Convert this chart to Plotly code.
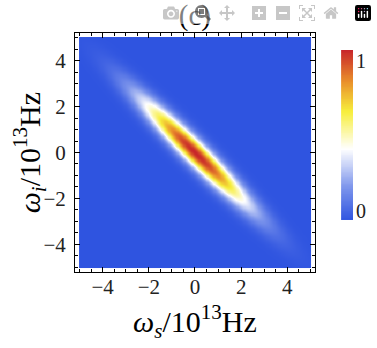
import numpy as np
import plotly.graph_objects as go

# frequency grid (units of 10^13 Hz)
ws = np.linspace(-5, 5, 201)
wi = np.linspace(-5, 5, 201)

# joint spectral intensity parameters
long_width = 3.2    # along the anti-diagonal (ws - wi)
short_width = 0.47  # along the diagonal (ws + wi)

tick_vals = [-4, -2, 0, 2, 4]
# colour bar: values shown and where its two labels sit (just inside the ends)
bar_levels = np.linspace(0, 1, 101)
cbar_vals = [0.055, 0.935]
cbar_text = ["0", "1"]

WS, WI = np.meshgrid(ws, wi)
u = (WS - WI) / np.sqrt(2)
v = (WS + WI) / np.sqrt(2)
jsi = np.exp(-(u / long_width) ** 2) * np.exp(-(v / short_width) ** 2)

cscale = [
    [0.0, "#2f54e0"],
    [0.2, "#7f97ec"],
    [0.42, "#ffffff"],
    [0.64, "#f7ee3c"],
    [0.82, "#e98e2b"],
    [1.0, "#c8262a"],
]

serif = "Liberation Serif"

fig = go.Figure()
fig.add_trace(go.Heatmap(
    x=ws, y=wi, z=jsi, zmin=0, zmax=1,
    colorscale=cscale, zsmooth="best", showscale=False,
))
# the colour bar is drawn as its own small heatmap so its place is fixed
fig.add_trace(go.Heatmap(
    x=[0], y=bar_levels, z=bar_levels.reshape(-1, 1), zmin=0, zmax=1,
    colorscale=cscale, zsmooth="best", showscale=False,
    xaxis="x2", yaxis="y2", hoverinfo="skip",
))

axis_common = dict(
    range=[-5.2, 5.2], tickvals=tick_vals, ticks="inside", ticklen=5,
    tickcolor="black", showline=True, linecolor="black", linewidth=1,
    mirror="ticks", showgrid=False, zeroline=False, automargin=False,
    minor=dict(dtick=0.5, ticks="inside", ticklen=3, tickcolor="black", showgrid=False),
    tickfont=dict(family=serif, size=21, color="#222"),
)

# paper is 297 px wide (l=75, r=5); main plot 240 px, bar at 341..353 px
fig.update_layout(
    xaxis=dict(**axis_common, domain=[0, 0.808], ticklabelstandoff=-4),
    yaxis=dict(**axis_common, domain=[0, 1], ticklabelstandoff=4),
    xaxis2=dict(domain=[0.896, 0.936], range=[-0.5, 0.5], visible=False,
                anchor="y2"),
    yaxis2=dict(domain=[0.218, 0.929], range=[0, 1], anchor="x2", side="right",
                tickvals=cbar_vals, ticktext=cbar_text, ticks="",
                showline=False, showgrid=False, zeroline=False, automargin=False,
                ticklabelstandoff=2,
                tickfont=dict(family=serif, size=20, color="#222")),
)

title_font = dict(family=serif, size=30, color="black")
fig.add_annotation(
    text="<i>ω<sub>s</sub></i>/10<sup>13</sup>Hz", font=title_font,
    xref="paper", yref="paper", x=0.404, y=-0.209,
    xanchor="center", yanchor="middle", showarrow=False,
)
fig.add_annotation(
    text="<i>ω<sub>i</sub></i>/10<sup>13</sup>Hz", font=title_font, textangle=-90,
    xref="paper", yref="paper", x=-0.152, y=0.5,
    xanchor="center", yanchor="middle", showarrow=False,
)

fig.update_layout(
    width=377, height=348,
    margin=dict(l=75, r=5, t=33, b=76),
    paper_bgcolor="white", plot_bgcolor="white",
    title=dict(text="(c)", x=0.517, xanchor="center", y=0.958, yanchor="middle",
               font=dict(family=serif, size=29, color="black")),
)

# drop the page's default body margin so the figure sits at the window corner
fig.write_html("out.html", post_script="document.body.style.margin='0';")
